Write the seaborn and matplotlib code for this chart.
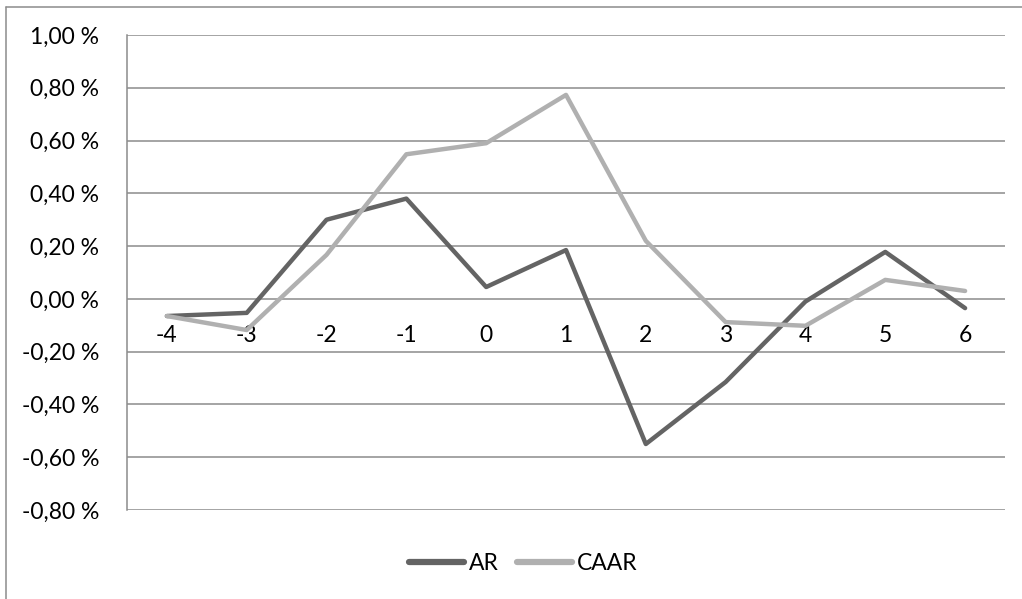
import matplotlib
matplotlib.use("Agg")
import matplotlib.pyplot as plt
from matplotlib.lines import Line2D
import seaborn as sns
import pandas as pd

# Event window (days relative to the event)
days = [-4, -3, -2, -1, 0, 1, 2, 3, 4, 5, 6]
# Abnormal returns and cumulative average abnormal returns, in percent
ar = [-0.065, -0.053, 0.30, 0.38, 0.045, 0.185, -0.55, -0.315, -0.01, 0.178, -0.035]
caar = [-0.065, -0.118, 0.167, 0.548, 0.59, 0.773, 0.22, -0.088, -0.102, 0.072, 0.03]
y_ticks = [-0.8, -0.6, -0.4, -0.2, 0.0, 0.2, 0.4, 0.6, 0.8, 1.0]

series_names = ["AR", "CAAR"]
colors = {"AR": "#646464", "CAAR": "#b0b0b0"}

df = pd.DataFrame({
    "pos": list(range(len(days))) * 2,
    "value": ar + caar,
    "series": ["AR"] * len(days) + ["CAAR"] * len(days),
})

sns.set_theme(style="white")
plt.rcParams["font.family"] = ["Lato", "DejaVu Sans"]
FS = 16.5
TEXT = "#000000"

W, H = 1022, 599
fig = plt.figure(figsize=(W / 100, H / 100), dpi=100)
ax = fig.add_axes([127 / W, 1 - 510 / H, (1005 - 127) / W, (510 - 35) / H])

sns.lineplot(data=df, x="pos", y="value", hue="series", palette=colors,
             hue_order=series_names, linewidth=3.2, ax=ax, legend=False,
             solid_capstyle="round")

grid_color = "#8c8c8c"
# category axis crosses the value axis at zero
ax.spines["bottom"].set_position(("data", 0))
ax.spines["bottom"].set_visible(False)
for s in ["top", "right"]:
    ax.spines[s].set_visible(False)
ax.spines["left"].set_color(grid_color)
ax.spines["left"].set_linewidth(1.1)

ax.set_xlim(-0.5, len(days) - 0.5)
ax.set_ylim(-0.8, 1.0)
ax.set_yticks(y_ticks)
ax.set_yticklabels([f"{v:.2f} %".replace(".", ",").replace("-0,00", "0,00") for v in y_ticks])
for v in y_ticks:
    ax.axhline(v, color=grid_color, lw=1.1, zorder=0)

ax.set_xticks(range(len(days)))
ax.set_xticklabels([str(d) for d in days])
ax.tick_params(axis="x", length=0, pad=19, labelsize=FS, labelcolor=TEXT)
ax.tick_params(axis="y", length=0, pad=20, labelsize=FS, labelcolor=TEXT)
ax.set_xlabel("")
ax.set_ylabel("")

handles = [Line2D([], [], color=colors[n], lw=4.5, solid_capstyle="round") for n in series_names]
fig.legend(handles, series_names, loc="center", bbox_to_anchor=(523 / W, 1 - 564 / H),
           ncol=2, frameon=False, fontsize=FS, handlelength=2.4, handletextpad=0.2,
           columnspacing=0.8, labelcolor=TEXT)

# Outer chart frame
fig.add_artist(Line2D([6 / W, 1.0], [1 - 7 / H, 1 - 7 / H], transform=fig.transFigure,
                      color=grid_color, lw=1.1))
fig.add_artist(Line2D([6 / W, 6 / W], [1 - 7 / H, 0.0], transform=fig.transFigure,
                      color=grid_color, lw=1.1))

fig.savefig("out.png", dpi=100, facecolor="white")
